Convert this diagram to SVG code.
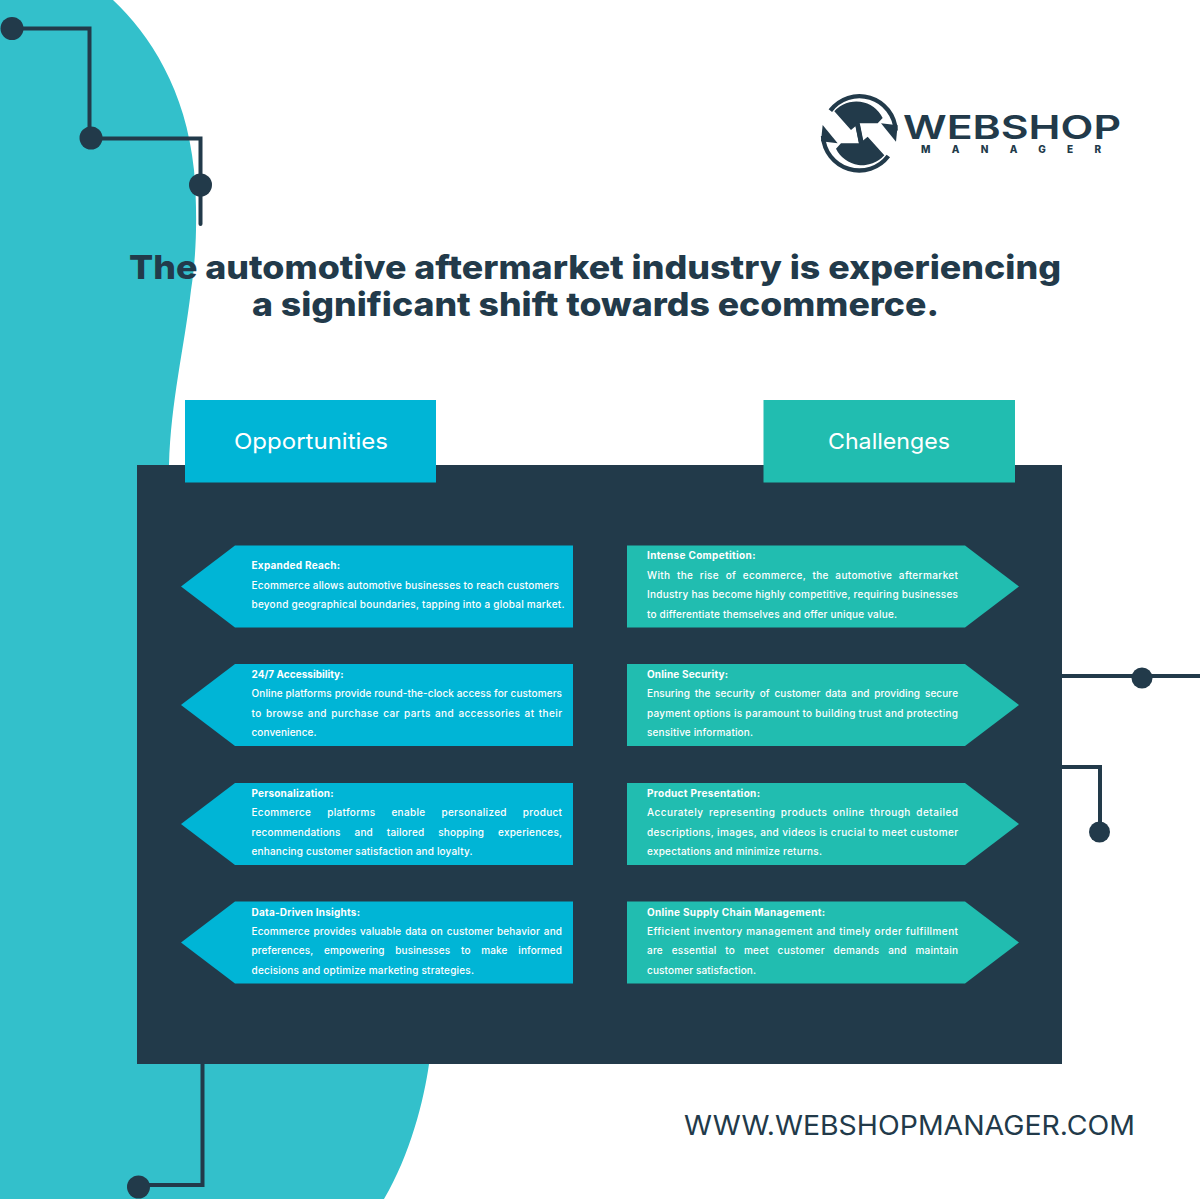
<svg xmlns="http://www.w3.org/2000/svg" width="1200" height="1199" viewBox="0 0 1200 1199">
<style>
text{font-family:"Inter","Noto Sans","Liberation Sans",sans-serif}
.h{font-size:33px;font-weight:800;fill:#223a4a}
.tab{font-size:22px;font-weight:400;fill:#fff}
.t{font-size:10px;font-weight:700;fill:#fff;transform:translateY(-.5px)}
.b{font-size:10px;font-weight:500;fill:#fff;transform:translateY(-.5px)}
.ln{fill:none;stroke:#223a4a;stroke-width:4}
.dot{fill:#223a4a}
.op{fill:#00b5d6}
.ch{fill:#21bdb0}
</style>
<defs>
<g id="half">
<path d="M46 62A109 109 0 0 1 242 122" fill="none" stroke="#223a4a" stroke-width="13"/>
<path d="M198 100L248 106L243 155Z" fill="#223a4a"/>
<path d="M58 64A88 88 0 0 1 203 84L188 100H132L108 120Z" fill="#223a4a"/>
<path d="M120 102H134L146 162H132Z" fill="#223a4a"/>
</g>
</defs>
<rect width="1200" height="1199" fill="#fff"/>
<path id="blob" fill="#33c0cb" d="M0 0H113C150 35 186 90 194 170C198 215 196 260 191 290C184 350 171 400 169 465L429 1064C424 1100 410 1155 384 1199H0Z"/>
<g id="connectors">
<path class="ln" d="M12 28.500H89.500V138"/>
<path class="ln" d="M91 138.500H200.500V224" stroke-linecap="round"/>
<path class="ln" d="M1062 676H1200"/>
<path class="ln" d="M1062 767H1100V832"/>
<path class="ln" d="M202.500 1064V1185H139"/>
<circle class="dot" cx="12" cy="28.500" r="11.500"/>
<circle class="dot" cx="91" cy="138" r="11.500"/>
<circle class="dot" cx="200.500" cy="185" r="11.500"/>
<circle class="dot" cx="1142" cy="678" r="10.500"/>
<circle class="dot" cx="1099.500" cy="832" r="10.500"/>
<circle class="dot" cx="138.500" cy="1187" r="11.500"/>
</g>
<g id="logo">
<g transform="translate(815 90) scale(.3333)"><use href="#half"/><use href="#half" transform="rotate(180 133 130)"/></g>
<text x="903" y="139" font-size="33" font-weight="600" fill="#223a4a" textLength="218" lengthAdjust="spacingAndGlyphs">WEBSHOP</text>
<text x="921" y="153" font-size="10" font-weight="800" fill="#223a4a" textLength="180">MANAGER</text>
</g>
<g id="heading">
<text class="h" x="129" y="279" textLength="932" lengthAdjust="spacingAndGlyphs">The automotive aftermarket industry is experiencing</text>
<text class="h" x="252" y="316" textLength="687" lengthAdjust="spacingAndGlyphs">a significant shift towards ecommerce.</text>
</g>
<rect id="panel" x="137" y="465" width="925" height="599" fill="#223a4a"/>
<g id="tab-opportunities"><rect class="op" x="185" y="400" width="251" height="82.500"/><text class="tab" x="234" y="448.500" textLength="154" lengthAdjust="spacingAndGlyphs">Opportunities</text></g>
<g id="tab-challenges"><rect class="ch" x="763.500" y="400" width="251.500" height="82.500"/><text class="tab" x="828" y="448.500" textLength="122" lengthAdjust="spacingAndGlyphs">Challenges</text></g>
<g id="opp-1"><path class="op" d="M181 586.500L235 545.500H573V627.500H235Z"/>
<text class="t" x="251.500" y="569.500" textLength="88.500">Expanded Reach:</text>
<text class="b" x="251.500" y="589.500" textLength="307.500">Ecommerce allows automotive businesses to reach customers</text>
<text class="b" x="251.500" y="608.500" textLength="313">beyond geographical boundaries, tapping into a global market.</text></g>
<g id="opp-2"><path class="op" d="M181 705L235 664H573V746H235Z"/>
<text class="t" x="251.500" y="678.500" textLength="92">24/7 Accessibility:</text>
<text class="b" x="251.500" y="697.500" textLength="310.500">Online platforms provide round-the-clock access for customers</text>
<text class="b" x="251.500" y="717" textLength="310.500" word-spacing="1.300">to browse and purchase car parts and accessories at their</text>
<text class="b" x="251.500" y="736.500" textLength="65">convenience.</text></g>
<g id="opp-3"><path class="op" d="M181 824L235 783H573V865H235Z"/>
<text class="t" x="251.500" y="797.500" textLength="82">Personalization:</text>
<text class="b" x="251.500" y="816.500" textLength="310.500" word-spacing="13">Ecommerce platforms enable personalized product</text>
<text class="b" x="251.500" y="836" textLength="310.500" word-spacing="11">recommendations and tailored shopping experiences,</text>
<text class="b" x="251.500" y="855.500" textLength="221">enhancing customer satisfaction and loyalty.</text></g>
<g id="opp-4"><path class="op" d="M181 942.500L235 901.500H573V983.500H235Z"/>
<text class="t" x="251.500" y="916" textLength="108.500">Data-Driven Insights:</text>
<text class="b" x="251.500" y="935" textLength="310.500" word-spacing="1">Ecommerce provides valuable data on customer behavior and</text>
<text class="b" x="251.500" y="954.500" textLength="310.500" word-spacing="8">preferences, empowering businesses to make informed</text>
<text class="b" x="251.500" y="974" textLength="222.500">decisions and optimize marketing strategies.</text></g>
<g id="cha-1"><path class="ch" d="M627 545.500H965L1019 586.500L965 627.500H627Z"/>
<text class="t" x="647" y="559.500" textLength="108.500">Intense Competition:</text>
<text class="b" x="647" y="579.500" textLength="311" word-spacing="3.500">With the rise of ecommerce, the automotive aftermarket</text>
<text class="b" x="647" y="598.500" textLength="311">Industry has become highly competitive, requiring businesses</text>
<text class="b" x="647" y="618.500" textLength="250">to differentiate themselves and offer unique value.</text></g>
<g id="cha-2"><path class="ch" d="M627 664H965L1019 705L965 746H627Z"/>
<text class="t" x="647" y="678.500" textLength="81">Online Security:</text>
<text class="b" x="647" y="697.500" textLength="311" word-spacing="2">Ensuring the security of customer data and providing secure</text>
<text class="b" x="647" y="717" textLength="311">payment options is paramount to building trust and protecting</text>
<text class="b" x="647" y="736.500" textLength="106">sensitive information.</text></g>
<g id="cha-3"><path class="ch" d="M627 783H965L1019 824L965 865H627Z"/>
<text class="t" x="647" y="797.500" textLength="113">Product Presentation:</text>
<text class="b" x="647" y="816.500" textLength="311" word-spacing="2.300">Accurately representing products online through detailed</text>
<text class="b" x="647" y="836" textLength="311">descriptions, images, and videos is crucial to meet customer</text>
<text class="b" x="647" y="855.500" textLength="175">expectations and minimize returns.</text></g>
<g id="cha-4"><path class="ch" d="M627 901.500H965L1019 942.500L965 983.500H627Z"/>
<text class="t" x="647" y="916" textLength="178">Online Supply Chain Management:</text>
<text class="b" x="647" y="935" textLength="311" word-spacing=".5">Efficient inventory management and timely order fulfillment</text>
<text class="b" x="647" y="954.500" textLength="311" word-spacing="5.800">are essential to meet customer demands and maintain</text>
<text class="b" x="647" y="974" textLength="109">customer satisfaction.</text></g>
<text id="url" x="684" y="1135" font-size="27" font-weight="400" fill="#223a4a" textLength="451" lengthAdjust="spacingAndGlyphs">WWW.WEBSHOPMANAGER.COM</text>
</svg>
